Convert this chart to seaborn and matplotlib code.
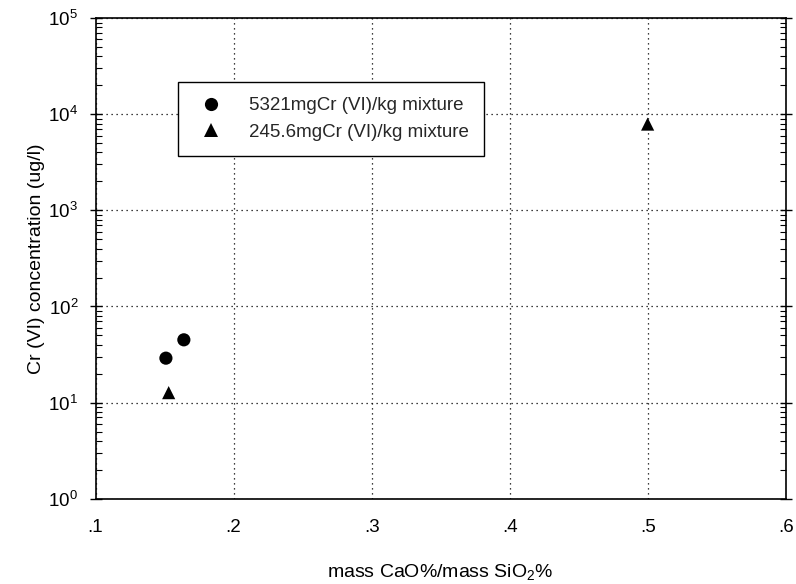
import matplotlib
matplotlib.use("Agg")
import matplotlib.pyplot as plt
import matplotlib.ticker as mticker
import numpy as np
import pandas as pd
import seaborn as sns

series_a = "5321mgCr (VI)/kg mixture"
series_b = "245.6mgCr (VI)/kg mixture"
x_a = [0.151, 0.164]
y_a = [29.0, 45.0]
x_b = [0.153, 0.500]
y_b = [12.7, 7900.0]
x_ticks = [0.1, 0.2, 0.3, 0.4, 0.5, 0.6]
x_tick_labels = [".1", ".2", ".3", ".4", ".5", ".6"]

df = pd.DataFrame({
    "x": x_a + x_b,
    "y": y_a + y_b,
    "series": [series_a] * len(x_a) + [series_b] * len(x_b),
})

sns.set_theme(style="white")
plt.rcParams["font.family"] = ["Liberation Sans", "DejaVu Sans"]
plt.rcParams["mathtext.fontset"] = "custom"
plt.rcParams["mathtext.rm"] = "Liberation Sans"
plt.rcParams["mathtext.it"] = "Liberation Sans:italic"

fig = plt.figure(figsize=(7.96, 5.84), dpi=100)
ax = fig.add_axes([0.120, 0.146, 0.867, 0.823])

sns.scatterplot(data=df, x="x", y="y", style="series",
                markers={series_a: "o", series_b: "^"},
                color="black", edgecolor="black", s=90, linewidth=0,
                ax=ax, legend=True)

ax.set_yscale("log")
ax.set_ylim(1, 1e5)
ax.set_xlim(0.1, 0.6)
ax.set_xticks(x_ticks)
ax.set_xticklabels(x_tick_labels)
ax.xaxis.set_minor_locator(mticker.MultipleLocator(0.05))
ax.yaxis.set_major_locator(mticker.LogLocator(base=10, numticks=10))
ax.yaxis.set_minor_locator(mticker.LogLocator(base=10, subs=np.arange(2, 10), numticks=20))
ax.yaxis.set_minor_formatter(mticker.NullFormatter())

for sp in ax.spines.values():
    sp.set_visible(True)
    sp.set_color("black")
    sp.set_linewidth(1.2)

ax.grid(True, which="major", color="black", linestyle=(0, (1, 3)), linewidth=0.9)
ax.tick_params(axis="both", which="major", direction="inout", length=9, width=1.0,
               colors="black", labelsize=13.5, labelcolor="black")
ax.tick_params(axis="both", which="minor", direction="in", length=4, width=0.8, colors="black")
ax.tick_params(axis="y", which="both", right=True, left=True)
ax.tick_params(axis="y", which="major", pad=8)
ax.tick_params(axis="x", which="major", pad=10)
ax.tick_params(axis="x", which="both", top=False)

ax.set_xlabel("mass CaO%/mass SiO$_2$%", fontsize=14, labelpad=19, color="black")
ax.set_ylabel("Cr (VI) concentration (ug/l)", fontsize=14, labelpad=2, color="black")

leg = ax.legend(loc="upper left", bbox_to_anchor=(0.119, 0.867), fontsize=13.5,
                frameon=True, fancybox=False, edgecolor="black", framealpha=1,
                borderpad=0.8, handletextpad=1.0, markerscale=1.0, borderaxespad=0)
leg.get_frame().set_linewidth(1.0)

fig.savefig("out.png", dpi=100)
